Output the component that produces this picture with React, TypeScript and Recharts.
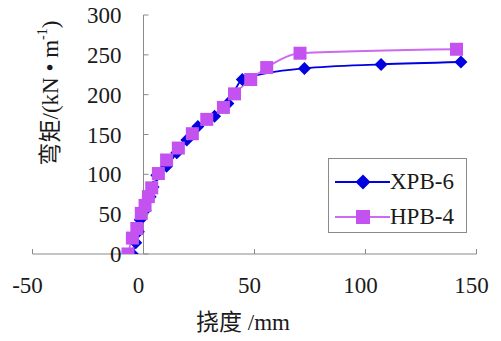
import React from "react";
import { LineChart, Line, XAxis, YAxis, ReferenceLine, Legend } from "recharts";

// deflection (mm) vs moment (kN·m^-1)
const xpbDefl = [-5, -3.5, -2.3, -1.5, 0.7, 3, 4.3, 6, 10.4, 15, 19.5, 24.5, 32, 38, 44.5, 72.5, 107, 143];
const xpbMoment = [0, 14, 28, 43, 55, 72, 84, 99, 110, 127, 143, 160, 173, 189, 219, 233, 238, 241];

const hpbDefl = [-7, -5, -3, -1, 0.7, 2.2, 3.7, 6.7, 10.4, 15.7, 22, 28.5, 36, 41, 48.3, 55.5, 70.5, 141];
const hpbMoment = [0, 20, 32, 51, 61, 72, 83, 101, 118, 133, 151, 169, 184, 201, 219, 234, 252, 257];

const xTicks = [-50, 0, 50, 100, 150];
const yTicks = [0, 50, 100, 150, 200, 250, 300];

const W = 501;
const H = 341;
const Y_AXIS_W = 1;
const MARGIN = { top: 15, right: 24.5, bottom: 0, left: 32.5 - Y_AXIS_W };
const X_AXIS_H = 87;
const X_MIN = -50;
const X_MAX = 150;
const PLOT_LEFT = MARGIN.left + Y_AXIS_W;
const PLOT_W = W - PLOT_LEFT - MARGIN.right;
// pixel where deflection = 0 (the vertical axis crosses there)
const ZERO_X = PLOT_LEFT + (PLOT_W * (0 - X_MIN)) / (X_MAX - X_MIN);

const FONT = "'Liberation Serif', 'DejaVu Serif', 'Noto Sans CJK SC'";
const GREY = "#8a8a8a";
const INK = "#1a1a1a";
const BLUE = "#0000e0";
const PINK_LINE = "#cc6af0";
const PINK_MARK = "#c452f0";

const xpbData = xpbDefl.map((x, i) => ({ x, y: xpbMoment[i] }));
const hpbData = hpbDefl.map((x, i) => ({ x, y: hpbMoment[i] }));

const Diamond = ({ cx, cy, r = 7, fill = BLUE }: any) => (
    <polygon points={`${cx},${cy - r} ${cx + r},${cy} ${cx},${cy + r} ${cx - r},${cy}`} fill={fill} />
);

const Square = ({ cx, cy, s = 13, fill = PINK_MARK }: any) => (
    <rect x={cx - s / 2} y={cy - s / 2} width={s} height={s} fill={fill} />
);

const series = [
    { name: "XPB-6", data: xpbData, color: BLUE, mark: "diamond" },
    { name: "HPB-4", data: hpbData, color: PINK_LINE, mark: "square" },
];

const XTick = ({ x, y, payload }: any) => (
    <g>
        <line x1={x} x2={x} y1={y - 5} y2={y} stroke={GREY} />
        <text x={x - 5} y={y + 39} textAnchor="middle" fontSize={23} fontFamily={FONT} fill={INK}>
            {payload.value}
        </text>
    </g>
);

const YTick = ({ y, payload }: any) => (
    <g>
        <line x1={ZERO_X} x2={ZERO_X + 5} y1={y} y2={y} stroke={GREY} />
        <text x={ZERO_X - 22} y={y + 8} textAnchor="end" fontSize={23} fontFamily={FONT} fill={INK}>
            {payload.value}
        </text>
    </g>
);

const YTitle = () => (
    <text
        x={50}
        y={93}
        transform="rotate(-90, 50, 93)"
        textAnchor="middle"
        dominantBaseline="central"
        fontSize={23}
        fontFamily={FONT}
        fill={INK}
    >
        弯矩/(kN • m
        <tspan dy={-8} fontSize={14}>-1</tspan>
        <tspan dy={8}>)</tspan>
    </text>
);

const XTitle = () => (
    <text x={243} y={330} textAnchor="middle" fontSize={23} fontFamily={FONT} fill={INK}>
        挠度 /mm
    </text>
);

const LegendBox = () => (
    <div
        style={{
            width: 139,
            height: 75,
            boxSizing: "border-box",
            border: `1px solid ${GREY}`,
            background: "#fff",
            paddingTop: 5,
            fontFamily: FONT,
            fontSize: 23,
            color: INK,
        }}
    >
        {series.map((s) => (
            <div key={s.name} style={{ display: "flex", alignItems: "center", height: 35 }}>
                <svg width={61} height={20} style={{ flex: "none" }}>
                    <line x1={6} x2={61} y1={10} y2={10} stroke={s.color} strokeWidth={1.8} />
                    {s.mark === "diamond" ? <Diamond cx={34} cy={10} r={7.5} /> : <Square cx={34} cy={10} s={14} />}
                </svg>
                <span style={{ lineHeight: "23px" }}>{s.name}</span>
            </div>
        ))}
    </div>
);

export default function App() {
    return (
        <div style={{ position: "absolute", left: 0, top: 0, background: "#fff" }}>
            <LineChart width={W} height={H} margin={MARGIN}>
                <ReferenceLine x={0} stroke={GREY} strokeWidth={1} ifOverflow="visible" />
                <XAxis
                    type="number"
                    dataKey="x"
                    domain={[X_MIN, X_MAX]}
                    ticks={xTicks}
                    interval={0}
                    height={X_AXIS_H}
                    axisLine={{ stroke: GREY, strokeWidth: 1 }}
                    tickLine={false}
                    tickSize={0}
                    tickMargin={0}
                    tick={<XTick />}
                    label={{ content: () => <XTitle /> }}
                    allowDataOverflow
                />
                <YAxis
                    type="number"
                    domain={[0, 300]}
                    ticks={yTicks}
                    interval={0}
                    width={Y_AXIS_W}
                    axisLine={false}
                    tickLine={false}
                    tickSize={0}
                    tickMargin={0}
                    tick={<YTick />}
                    label={{ content: () => <YTitle /> }}
                    allowDataOverflow
                />
                <Legend
                    layout="vertical"
                    align="center"
                    verticalAlign="middle"
                    content={() => <LegendBox />}
                    wrapperStyle={{ left: 328, top: 158, width: 139, height: 75 }}
                />
                <Line
                    data={xpbData}
                    dataKey="y"
                    name="XPB-6"
                    type="monotone"
                    stroke={BLUE}
                    strokeWidth={1.8}
                    dot={(p: any) => <Diamond key={`d-${p.index}`} cx={p.cx} cy={p.cy} r={6.5} />}
                    activeDot={false}
                    isAnimationActive={false}
                />
                <Line
                    data={hpbData}
                    dataKey="y"
                    name="HPB-4"
                    type="monotone"
                    stroke={PINK_LINE}
                    strokeWidth={1.8}
                    dot={(p: any) => <Square key={`s-${p.index}`} cx={p.cx} cy={p.cy} s={13} />}
                    activeDot={false}
                    isAnimationActive={false}
                />
            </LineChart>
        </div>
    );
}
